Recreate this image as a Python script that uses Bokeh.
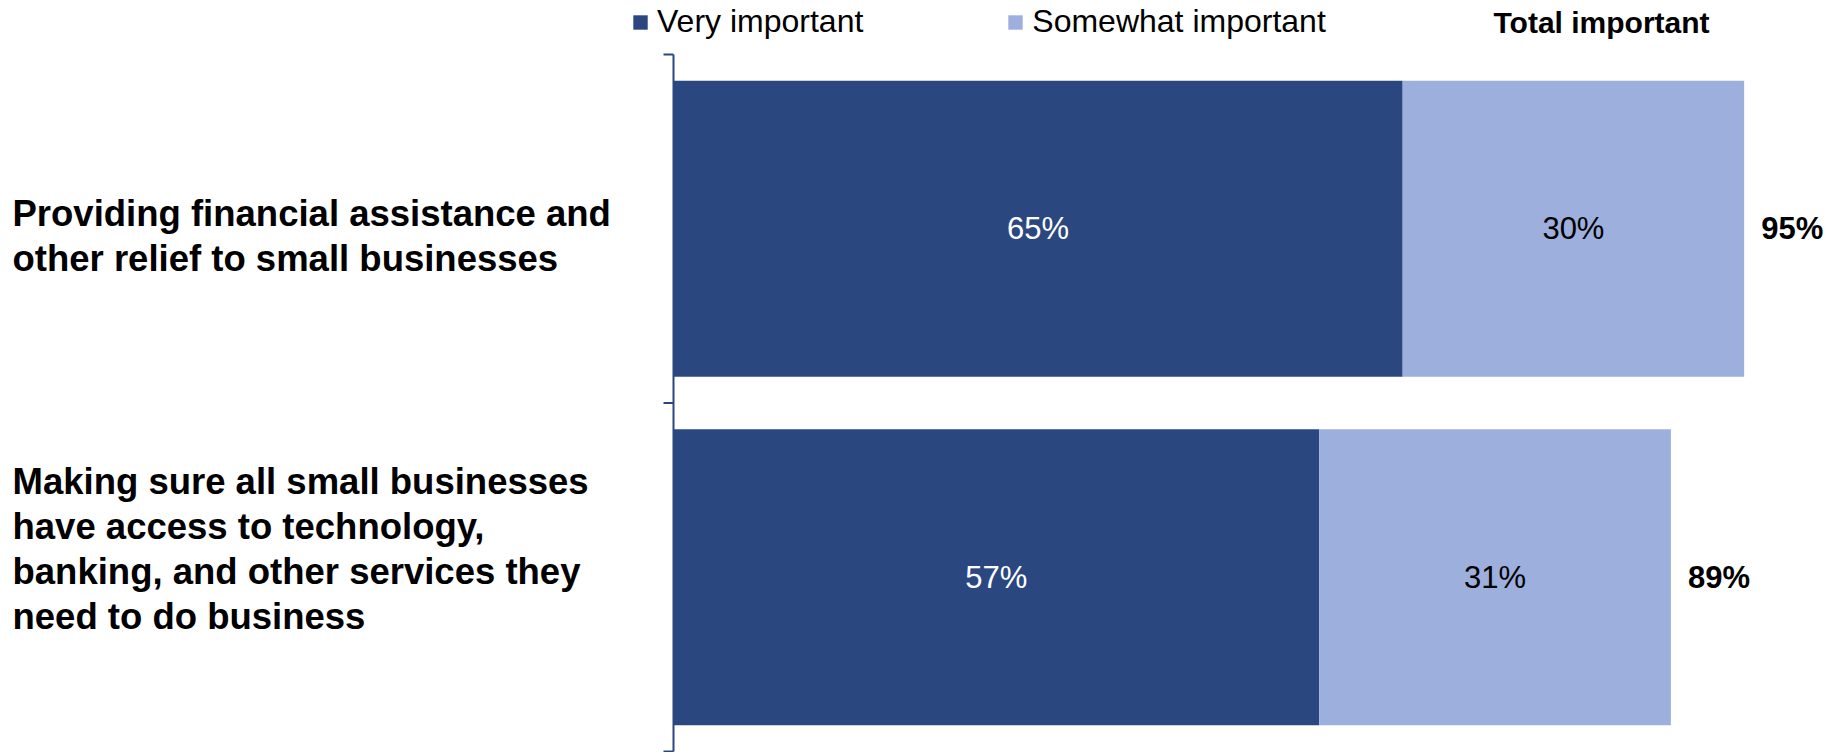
from bokeh.plotting import figure
from bokeh.models import (Range1d, ColumnDataSource, Label, LabelSet, Legend, LegendItem)
from bokeh.core.properties import value
from bokeh.embed import file_html
from bokeh.resources import INLINE

# ---------------- data ----------------
categories = [
    "Providing financial assistance and\nother relief to small businesses",
    "Making sure all small businesses\nhave access to technology,\nbanking, and other services they\nneed to do business",
]
very_important = [64.7, 57.3]      # bar lengths
somewhat_important = [30.3, 31.2]
total_important = [95, 89]         # printed totals
series_names = ["Very important", "Somewhat important"]
total_header = "Total important"

# ---------------- style / layout ----------------
DARK = "#2B4780"
LIGHT = "#9CAFDD"
FONT = "Liberation Sans"

W, H = 1835, 752          # canvas size
AXIS_X = 673              # screen x of the value axis (0 %)
PX_PER_PCT = 11.27        # horizontal scale
ROW_PX = 348.5            # height of one category band
BAND_BOTTOM = 751         # screen y of bottom of the lowest band
TICK_PX = 10

n = len(categories)
x_start = -AXIS_X / PX_PER_PCT
x_end = (W - AXIS_X) / PX_PER_PCT
y_start = (BAND_BOTTOM - H) / ROW_PX
y_end = y_start + H / ROW_PX

ys = [n - i - 0.5 for i in range(n)]
very_end = [v + s for v, s in zip(very_important, somewhat_important)]
src = ColumnDataSource(dict(
    cat=categories,
    y=ys,
    very=very_important,
    very_end=very_end,
    very_mid=[v / 2 for v in very_important],
    some_mid=[v + s / 2 for v, s in zip(very_important, somewhat_important)],
    very_lbl=[f"{round(v)}%" for v in very_important],
    some_lbl=[f"{round(s)}%" for s in somewhat_important],
    total_lbl=[f"{t}%" for t in total_important],
    cat_off=[-7, 28],
))

p = figure(width=W, height=H, x_range=Range1d(x_start, x_end), y_range=Range1d(y_start, y_end),
           output_backend="svg", toolbar_location=None,
           x_axis_location=None, y_axis_location=None,
           min_border_left=0, min_border_right=0, min_border_top=0, min_border_bottom=0)
p.outline_line_color = None
p.grid.visible = False
p.background_fill_color = "white"

BAR_H = 0.85
r1 = p.hbar(y="y", left=0, right="very", height=BAR_H, fill_color=DARK, line_color=None, source=src)
r2 = p.hbar(y="y", left="very", right="very_end", height=BAR_H, fill_color=LIGHT, line_color=None, source=src)

# category axis line with ticks at band boundaries
bounds = list(range(n + 1))
tick_len = TICK_PX / PX_PER_PCT
p.segment(x0=0, y0=0, x1=0, y1=n, line_color=DARK, line_width=2)
p.segment(x0=[-tick_len] * len(bounds), y0=bounds, x1=[0] * len(bounds), y1=bounds,
          line_color=DARK, line_width=2)

p.text(x="very_mid", y="y", text="very_lbl", source=src, text_align="center", text_baseline="middle",
       text_color="white", text_font=value(FONT), text_font_size="31px")
p.text(x="some_mid", y="y", text="some_lbl", source=src, text_align="center", text_baseline="middle",
       text_color="black", text_font=value(FONT), text_font_size="31px")
p.text(x="very_end", y="y", text="total_lbl", source=src, text_align="left", text_baseline="middle",
       x_offset=17, text_color="black", text_font=value(FONT), text_font_size="31px",
       text_font_style="bold")

# category labels at far left
cats = LabelSet(x=12, x_units="screen", y="y", y_offset="cat_off", text="cat", source=src,
                text_align="left", text_baseline="middle", text_font=value(FONT),
                text_font_size="36.5px", text_font_style="bold", text_color="black",
                text_line_height=1.1)
p.add_layout(cats)

legend = Legend(items=[LegendItem(label=series_names[0], renderers=[r1]),
                       LegendItem(label=series_names[1], renderers=[r2])],
                orientation="horizontal", location=(631, H - 40),
                glyph_width=18, glyph_height=18, label_standoff=8, spacing=143,
                padding=0, margin=0, border_line_color=None, background_fill_alpha=0,
                label_text_font=FONT, label_text_font_size="32px", label_text_color="black",
                label_height=18)
p.add_layout(legend)

p.add_layout(Label(x=1493, x_units="screen", y=H - 22, y_units="screen",
                   text=total_header, text_align="left", text_baseline="middle",
                   text_font=FONT, text_font_size="30px", text_font_style="bold",
                   text_color="black"))

open("out.html", "w").write(file_html(p, INLINE))
